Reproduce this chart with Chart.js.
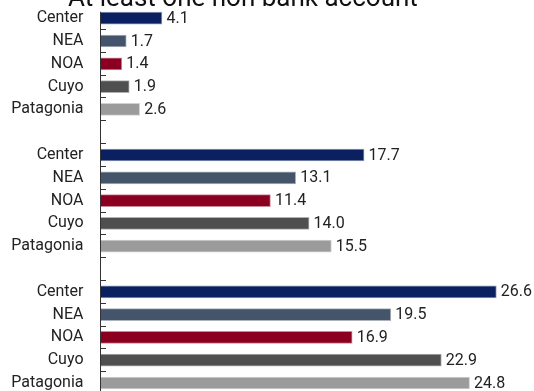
<!DOCTYPE html>
<html>
<head>
<meta charset="utf-8">
<script src="https://cdn.jsdelivr.net/npm/chart.js@4/dist/chart.umd.min.js"></script>
<style>
  html, body { margin: 0; padding: 0; background: #fff; overflow: hidden; }
  #c { display: block; width: 534px; height: 391px; }
</style>
</head>
<body>
<canvas id="c" width="534" height="391"></canvas>
<script>
// Chart text and data
const chartTitle = 'At least one non bank account';
const regions = ['Center', 'NEA', 'NOA', 'Cuyo', 'Patagonia'];
const regionColors = ['#0b2060', '#44546a', '#8b0020', '#4f4f4f', '#9b9b9b'];
const group1 = [4.1, 1.7, 1.4, 1.9, 2.6];
const group2 = [17.7, 13.1, 11.4, 14.0, 15.5];
const group3 = [26.6, 19.5, 16.9, 22.9, 24.8];
const groups = [group1, group2, group3];

// Flatten the groups into one category axis, with an empty row between groups
const labels = [];
const values = [];
const colors = [];
groups.forEach((g, gi) => {
  if (gi > 0) { labels.push(''); values.push(null); colors.push('rgba(0,0,0,0)'); }
  g.forEach((v, i) => {
    labels.push(regions[i]);
    values.push(v);
    colors.push(regionColors[i]);
  });
});

function tint(hex, a) {
  const n = parseInt(hex.slice(1), 16);
  return `rgba(${(n >> 16) & 255},${(n >> 8) & 255},${n & 255},${a})`;
}
const borders = colors.map(c => c.startsWith('#') ? tint(c, 0.45) : c);

// Plot band: the last row runs a little past the bottom edge of the canvas
const plotTop = 6.8;
const plotBottom = 394.4;

const plotBandPlugin = {
  id: 'plotBand',
  afterLayout(chart) {
    const y = chart.scales.y;
    const area = chart.chartArea;
    area.top = plotTop;
    area.bottom = plotBottom;
    area.height = plotBottom - plotTop;
    y.top = plotTop;
    y.bottom = plotBottom;
    y.height = plotBottom - plotTop;
    y.configure();
  }
};

// Title text, partly above the top edge
const titlePlugin = {
  id: 'titleText',
  afterDraw(chart) {
    const ctx = chart.ctx;
    ctx.save();
    ctx.font = '26px Roboto';
    ctx.fillStyle = '#111';
    ctx.textAlign = 'left';
    ctx.textBaseline = 'alphabetic';
    ctx.fillText(chartTitle, 68, 6);
    ctx.restore();
  }
};

// Vertical axis line, starting a little below the top of the plot band
const axisLinePlugin = {
  id: 'axisLine',
  afterDraw(chart) {
    const { ctx, chartArea } = chart;
    ctx.save();
    ctx.strokeStyle = '#333';
    ctx.lineWidth = 1;
    ctx.beginPath();
    ctx.moveTo(100.5, chartArea.top + 5);
    ctx.lineTo(100.5, chartArea.bottom);
    ctx.stroke();
    ctx.restore();
  }
};

// Value labels at the end of each bar
const valueLabelPlugin = {
  id: 'valueLabels',
  afterDatasetsDraw(chart) {
    const ctx = chart.ctx;
    const meta = chart.getDatasetMeta(0);
    ctx.save();
    ctx.font = '16px Roboto';
    ctx.fillStyle = '#222';
    ctx.textAlign = 'left';
    ctx.textBaseline = 'middle';
    meta.data.forEach((bar, i) => {
      const v = values[i];
      if (v === null) return;
      ctx.fillText(v.toFixed(1), bar.x + 4.5, bar.y + 0.5);
    });
    ctx.restore();
  }
};

function draw() {
  new Chart(document.getElementById('c'), {
    type: 'bar',
    data: {
      labels: labels,
      datasets: [{
        data: values,
        backgroundColor: colors,
        borderColor: borders,
        borderWidth: 1,
        borderSkipped: 'start',
        barThickness: 12
      }]
    },
    options: {
      indexAxis: 'y',
      responsive: false,
      animation: false,
      events: [],
      layout: { padding: { top: 6.8, bottom: 0, left: 0, right: 2 } },
      plugins: {
        legend: { display: false },
        title: { display: false },
        tooltip: { enabled: false }
      },
      scales: {
        x: {
          display: false,
          min: 0,
          max: 29
        },
        y: {
          type: 'category',
          offset: true,
          border: { display: false },
          grid: {
            offset: true,
            drawOnChartArea: false,
            drawTicks: true,
            tickLength: -5,
            lineWidth: 1,
            color: c => c.index === 0 ? 'rgba(0,0,0,0)' : '#333'
          },
          ticks: {
            autoSkip: false,
            padding: 22.5,
            color: '#222',
            font: { family: 'Roboto', size: 16 }
          },
          afterFit(scale) {
            scale.width = 101;
            scale.paddingTop = 0;
            scale.paddingBottom = 0;
          }
        }
      }
    },
    plugins: [plotBandPlugin, titlePlugin, axisLinePlugin, valueLabelPlugin]
  });
}

Promise.all([
  document.fonts.load('16px Roboto'),
  document.fonts.load('26px Roboto')
]).then(draw, draw);
</script>
</body>
</html>
